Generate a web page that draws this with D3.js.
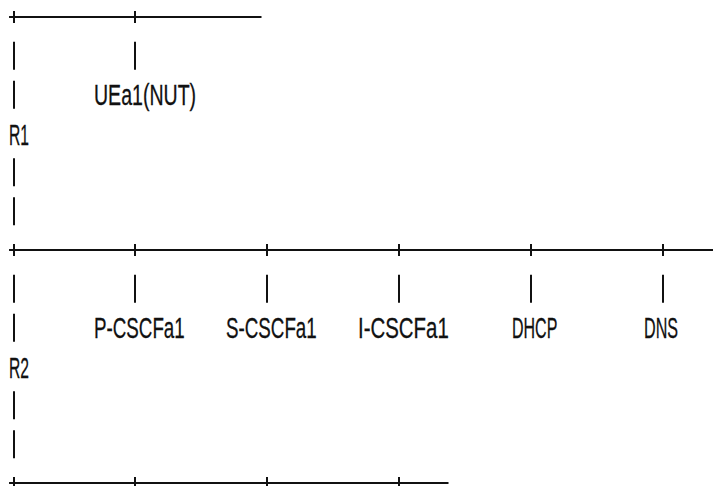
<!DOCTYPE html>
<html>
<head>
<meta charset="utf-8">
<script src="https://cdn.jsdelivr.net/npm/d3@7"></script>
<style>
  html, body { margin: 0; padding: 0; background: #fff; }
  svg { display: block; }
  .lbl { font-family: "Liberation Sans Narrow", "Liberation Sans", Arial, sans-serif; font-size: 30px; fill: #111; stroke: #111; stroke-width: 0.3; }
</style>
</head>
<body>
<svg id="root" width="713" height="486"></svg>
<script>
// Buses (the R1 / R2 segments) and the nodes hanging off them
const busNames = ["R1", "R2"];
const r1Nodes = ["UEa1(NUT)"];
const r1Cols = [11];
const r1LabelCols = [7];
const r2Nodes = ["P-CSCFa1", "S-CSCFa1", "I-CSCFa1", "DHCP", "DNS"];
const r2Cols = [11, 23, 35, 47, 59];
const r2LabelCols = [7, 19, 31, 45, 57];

// Horizontal rules: length in characters and where the "+" joints sit
const ruleLens = [23, 65, 40];
const ruleJoints = [[0, 11], [0, 11, 23, 35, 47, 59], [0, 11, 23, 35]];

const svg = d3.select('#root');
const ink = '#111';

// one column = one character cell, one row = one text line
const x = d3.scaleLinear().domain([0, 1]).range([14, 25]);
const y = d3.scaleLinear().domain([0, 12]).range([17, 483]);
const charW = 11.35;

const rules = ruleLens.map((len, i) => ({ row: i * 6, len: len, joints: ruleJoints[i] }));

const buses = busNames.map((name, i) => ({
  name: name,
  row: i * 6,
  nodes: (i === 0 ? r1Nodes : r2Nodes).map((n, j) => ({
    name: n,
    col: (i === 0 ? r1Cols : r2Cols)[j],
    labelCol: (i === 0 ? r1LabelCols : r2LabelCols)[j]
  }))
}));

// Squeeze a text horizontally to a fixed width (the font is a narrow one)
const squeeze = (sel, widthOf) => sel.each(function(d) {
  const t = d3.select(this);
  const natural = this.getComputedTextLength();
  const sx = widthOf(d) / natural;
  t.attr('transform', `translate(${d.px},${d.py}) scale(${sx},1)`);
});

// Horizontal rules with their joints
const ruleG = svg.selectAll('g.rule').data(rules).enter()
  .append('g').attr('class', 'rule');

ruleG.append('line')
  .attr('x1', x(-0.45))
  .attr('x2', d => x(d.len - 1 + 0.5))
  .attr('y1', d => y(d.row))
  .attr('y2', d => y(d.row))
  .attr('stroke', ink)
  .attr('stroke-width', 2);

ruleG.selectAll('line.joint').data(d => d.joints.map(c => ({ c: c, row: d.row }))).enter()
  .append('line')
  .attr('class', 'joint')
  .attr('x1', d => x(d.c)).attr('x2', d => x(d.c))
  .attr('y1', d => y(d.row) - 6).attr('y2', d => y(d.row) + 6)
  .attr('stroke', ink)
  .attr('stroke-width', 2);

// Vertical pipes: the left spine of each bus and the drop to each node
const bar = (sel) => sel
  .attr('x1', d => x(d.col)).attr('x2', d => x(d.col))
  .attr('y1', d => y(d.row) - 14).attr('y2', d => y(d.row) + 14)
  .attr('stroke', ink)
  .attr('stroke-width', 2);

const busG = svg.selectAll('g.bus').data(buses).enter()
  .append('g').attr('class', 'bus');

busG.selectAll('line.spine')
  .data(d => [1, 2, 4, 5].map(k => ({ col: 0, row: d.row + k })))
  .enter().append('line').attr('class', 'spine').call(bar);

busG.selectAll('line.drop')
  .data(d => d.nodes.map(n => ({ col: n.col, row: d.row + 1 })))
  .enter().append('line').attr('class', 'drop').call(bar);

// Node names
busG.selectAll('text.node')
  .data(d => d.nodes.map(n => ({
    name: n.name,
    px: x(n.labelCol) + 3,
    py: y(d.row + 2) + 10
  })))
  .enter().append('text')
  .attr('class', 'lbl node')
  .text(d => d.name)
  .call(squeeze, d => d.name.length * charW);

// Bus names
busG.append('text')
  .datum(d => ({ name: d.name, px: x(0) - 5, py: y(d.row + 3) + 11 }))
  .attr('class', 'lbl')
  .text(d => d.name)
  .call(squeeze, d => d.name.length * 10);
</script>
</body>
</html>
